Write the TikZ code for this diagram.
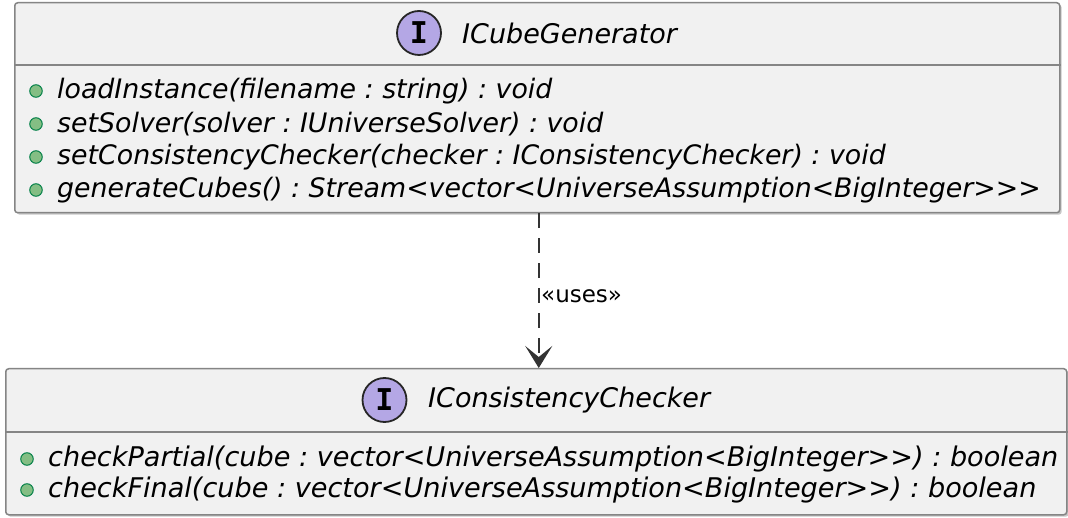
\documentclass[tikz,border=0pt]{standalone}
\usepackage{fontspec}
\setmainfont{DejaVu Sans}[Ligatures=TeXOff]
\newfontfamily\monob{DejaVu Sans Mono Bold}
\usetikzlibrary{arrows.meta}
\definecolor{boxfill}{HTML}{F1F1F1}
\definecolor{boxline}{HTML}{858585}
\definecolor{shadowc}{HTML}{C8C8C8}
\definecolor{ifill}{HTML}{B4A7E5}
\definecolor{bfill}{HTML}{84BE84}
\definecolor{bline}{HTML}{038048}
\definecolor{arrowc}{HTML}{333333}
\frenchspacing
\begin{document}
\begin{tikzpicture}[x=1pt,y=-1pt,
  classbox/.style={draw=boxline, line width=1.5pt, fill=boxfill, rounded corners=3pt, anchor=north west, inner sep=0pt},
  shadowbox/.style={fill=shadowc, rounded corners=3pt, anchor=north west, inner sep=0pt},
  sepline/.style={draw=boxline, line width=1.5pt},
  ibadge/.style={circle, draw=black!85, line width=1.8pt, fill=ifill, minimum size=44pt, inner sep=0pt, font=\fontsize{30}{30}\monob},
  cname/.style={anchor=west, inner sep=0pt, font=\fontsize{27}{27}\selectfont\itshape},
  meth/.style={anchor=west, inner sep=0pt, font=\fontsize{26.8}{26.8}\selectfont\itshape},
  methb/.style={anchor=west, inner sep=0pt, font=\fontsize{27.1}{27.1}\selectfont\itshape},
  vis/.style={circle, draw=bline, fill=bfill, line width=1pt, minimum size=12.5pt, inner sep=0pt},
  uses/.style={draw=arrowc, line width=1.8pt, dash pattern=on 15pt off 10pt, -{Stealth[length=22pt,width=27pt,inset=11pt]}},
  lbl/.style={anchor=west, inner sep=0pt, font=\fontsize{23}{23}\selectfont}]
\fill[white] (0,0) rectangle (1068,518);
\useasboundingbox (0,0) rectangle (1068,518);

% ICubeGenerator
\node[shadowbox, minimum width=1045pt, minimum height=210pt] (genshadow) at (16.5,4.5) {};
\node[classbox, minimum width=1045pt, minimum height=210pt] (gen) at (14,2) {};
\draw[sepline] (gen.west |- 0,65) -- (gen.east |- 0,65);
\node[ibadge] (genI) at (419,33) {I};
\node[cname] (genN) at (462,33) {ICubeGenerator};
\node[vis] (gb1) at (36,91) {};
\node[meth] (gm1) at (57,91) {loadInstance(filename : string) : void};
\node[vis] (gb2) at (36,124) {};
\node[meth] (gm2) at (57,124) {setSolver(solver : IUniverseSolver) : void};
\node[vis] (gb3) at (36,157) {};
\node[meth] (gm3) at (57,157) {setConsistencyChecker(checker : IConsistencyChecker) : void};
\node[vis] (gb4) at (36,190) {};
\node[meth] (gm4) at (57,190) {generateCubes() : Stream<vector<UniverseAssumption<BigInteger>>>};

% IConsistencyChecker
\node[shadowbox, minimum width=1061pt, minimum height=146pt] (chkshadow) at (7.5,370.5) {};
\node[classbox, minimum width=1061pt, minimum height=146pt] (chk) at (5,368) {};
\draw[sepline] (chk.west |- 0,432) -- (chk.east |- 0,432);
\node[ibadge] (chkI) at (384.5,400) {I};
\node[cname] (chkN) at (428,400) {IConsistencyChecker};
\node[vis] (cb1) at (27,459) {};
\node[methb] (cm1) at (48,459) {checkPartial(cube : vector<UniverseAssumption<BigInteger>>) : boolean};
\node[vis] (cb2) at (27,490) {};
\node[methb] (cm2) at (48,490) {checkFinal(cube : vector<UniverseAssumption<BigInteger>>) : boolean};

% dependency
\draw[uses] ([xshift=1.5pt]gen.south) -- ([xshift=1.5pt]gen.south |- chk.north);
\node[lbl] (usesL) at (541,296) {«uses»};
\end{tikzpicture}
\end{document}
